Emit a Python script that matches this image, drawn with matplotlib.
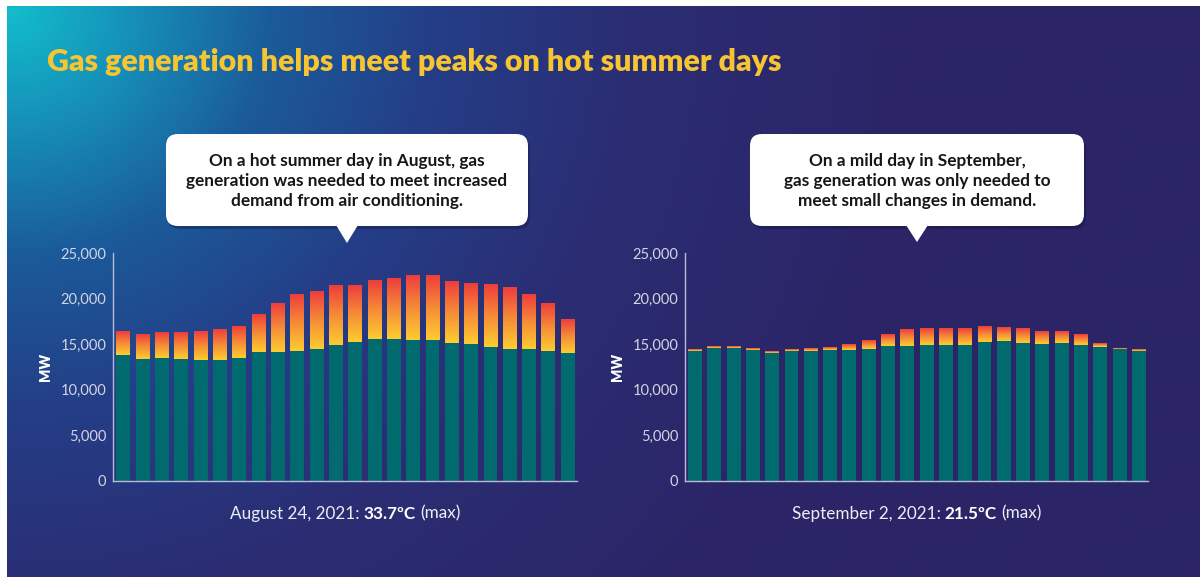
import matplotlib
matplotlib.use("Agg")
import matplotlib.pyplot as plt
import numpy as np
from matplotlib.patches import FancyBboxPatch, Polygon
from matplotlib.colors import LinearSegmentedColormap, to_rgb
from matplotlib.offsetbox import TextArea, HPacker, AnnotationBbox
from matplotlib.ticker import FuncFormatter

# hourly generation (MW)
hours = list(range(24))
aug_other = [13780, 13420, 13450, 13380, 13310, 13230, 13490, 14150, 14150, 14260, 14480, 14920,
             15250, 15580, 15580, 15510, 15510, 15140, 15030, 14740, 14480, 14480, 14260, 14080]
aug_total = [16390, 16060, 16240, 16310, 16420, 16570, 16940, 18260, 19500, 20460, 20780, 21480,
             21480, 21990, 22210, 22580, 22540, 21920, 21630, 21630, 21260, 20490, 19500, 17740]
sep_other = [14300, 14630, 14550, 14330, 14080, 14220, 14220, 14330, 14410, 14480, 14850, 14770,
             14880, 14880, 14920, 15290, 15400, 15100, 14990, 15100, 14880, 14700, 14520, 14260]
sep_total = [14410, 14740, 14660, 14440, 14190, 14330, 14440, 14630, 14960, 15360, 16130, 16530,
             16640, 16640, 16720, 16970, 16900, 16640, 16390, 16310, 15980, 15030, 14590, 14370]
aug_gas = [t - o for t, o in zip(aug_total, aug_other)]
sep_gas = [t - o for t, o in zip(sep_total, sep_other)]

yticks = [0, 5000, 10000, 15000, 20000, 25000]

title = "Gas generation helps meet peaks on hot summer days"
callout_left = "On a hot summer day in August, gas\ngeneration was needed to meet increased\ndemand from air conditioning."
callout_right = "On a mild day in September,\ngas generation was only needed to\nmeet small changes in demand."

W, H = 1200, 577
fig = plt.figure(figsize=(12, 5.77), dpi=100, facecolor="white")

# background: full figure axes in pixel coords
bg = fig.add_axes([0, 0, 1, 1], zorder=0)
bg.axis("off")

yy, xx = np.mgrid[0:H, 0:W]
d = np.sqrt((xx - 7.0) ** 2 + (yy - 6.0) ** 2 * 1.1)
stops = [(0, "#12bccb"), (120, "#168fb8"), (260, "#1b5a9a"), (420, "#243e87"),
         (620, "#2b2d73"), (900, "#2b2567"), (2000, "#2b2567")]
sd = np.array([s[0] for s in stops], float)
sc = np.array([to_rgb(s[1]) for s in stops])
img = np.dstack([np.interp(d, sd, sc[:, k]) for k in range(3)])
bg.imshow(img, extent=(7, W, H, 6), aspect="auto", interpolation="bilinear", zorder=0)
bg.set_xlim(0, W)
bg.set_ylim(H, 0)

bg.text(47, 62, title, color="#f7c531", fontsize=21.9, fontweight="heavy",
        family="Lato", ha="left", va="center")


def callout(x0, x1, y0, y1, tipx, tipy, txt):
    shadow = FancyBboxPatch((x0 + 2, y0 + 3), x1 - x0, y1 - y0,
                            boxstyle="round,pad=0,rounding_size=12",
                            fc="#10103a", ec="none", alpha=0.35, zorder=2)
    bg.add_patch(shadow)
    box = FancyBboxPatch((x0, y0), x1 - x0, y1 - y0,
                         boxstyle="round,pad=0,rounding_size=12",
                         fc="white", ec="none", zorder=3)
    bg.add_patch(box)
    bg.add_patch(Polygon([[tipx - 11, y1 - 1], [tipx + 11, y1 - 1], [tipx, tipy]],
                         closed=True, fc="white", ec="none", zorder=3))
    bg.text((x0 + x1) / 2, (y0 + y1) / 2 + 1, txt, ha="center", va="center",
            fontsize=12.4, fontweight="bold", family="Lato", color="#161616",
            linespacing=1.3, zorder=4)


callout(166, 528, 134, 226, 347, 243, callout_left)
callout(750, 1084, 134, 226, 917, 242, callout_right)

gas_cmap = LinearSegmentedColormap.from_list("gas", ["#fdcc31", "#f68b37", "#ee3e3c"])
grad = np.linspace(0, 1, 64).reshape(-1, 1)


def panel(rect, other, gas, xlim, date_txt, temp_txt):
    ax = fig.add_axes(rect, zorder=2)
    ax.patch.set_alpha(0)
    ax.bar(hours, other, width=0.72, color="#006a6e", zorder=2)
    gbars = ax.bar(hours, gas, bottom=other, width=0.72, color="none", zorder=2)
    for b in gbars:
        if b.get_height() <= 0:
            continue
        ax.imshow(grad, cmap=gas_cmap, origin="lower", aspect="auto",
                  extent=(b.get_x(), b.get_x() + b.get_width(), b.get_y(), b.get_y() + b.get_height()),
                  zorder=3)
    ax.set_xlim(*xlim)
    ax.set_ylim(0, 25000)
    ax.set_yticks(yticks)
    ax.yaxis.set_major_formatter(FuncFormatter(lambda v, p: f"{int(v):,}"))
    ax.set_xticks([])
    ax.tick_params(axis="y", length=0, pad=5, labelsize=10.5, labelcolor="#d3d4e4")
    for lab in ax.get_yticklabels():
        lab.set_family("Lato")
    for s in ["top", "right"]:
        ax.spines[s].set_visible(False)
    for s in ["left", "bottom"]:
        ax.spines[s].set_color("#b9bbd6")
        ax.spines[s].set_linewidth(1.0)
    ax.set_ylabel("MW", color="white", fontsize=10, fontweight="heavy", family="Lato", labelpad=6)

    parts = HPacker(children=[
        TextArea(date_txt, textprops=dict(color="#ecedf5", fontsize=12.3, family="Lato")),
        TextArea(temp_txt, textprops=dict(color="white", fontsize=12.3, family="Lato", fontweight="bold")),
        TextArea("(max)", textprops=dict(color="#ecedf5", fontsize=12.3, family="Lato")),
    ], align="baseline", pad=0, sep=3)
    ab = AnnotationBbox(parts, (0.5, -0.143), xycoords="axes fraction",
                        frameon=False, box_alignment=(0.5, 0.5), zorder=4)
    ax.add_artist(ab)
    return ax


panel([113.2 / W, 1 - 481 / H, (577 - 113.2) / W, (481 - 253) / H],
      aug_other, aug_gas, (-0.53, 23.48), "August 24, 2021:", "33.7ºC")
panel([685.4 / W, 1 - 481 / H, (1148 - 685.4) / W, (481 - 253) / H],
      sep_other, sep_gas, (-0.5, 23.47), "September 2, 2021:", "21.5ºC")

fig.savefig("out.png", dpi=100, facecolor="white")
